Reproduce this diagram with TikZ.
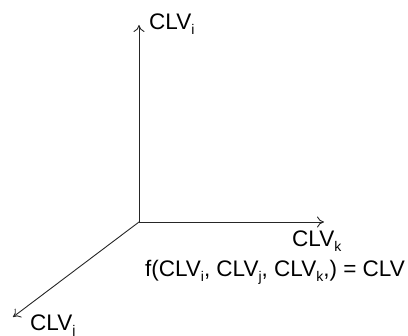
\documentclass[tikz,border=0pt]{standalone}
\usepackage{fontspec}
\setmainfont{Liberation Sans}
\usetikzlibrary{arrows.meta}
\newcommand\sbs[1]{\raisebox{-5pt}{\fontsize{14}{14}\selectfont #1}}
\begin{document}
\begin{tikzpicture}[x=1pt,y=-1pt,
  axis/.style={draw=black!85,line width=0.9pt,-{To[length=7pt,width=11pt]}},
  lab/.style={inner sep=0pt,font=\fontsize{22.5}{26}\selectfont}]
\useasboundingbox (0,0) rectangle (408,336);
\coordinate (o) at (139,222);
\coordinate (yi) at (139,25);
\coordinate (xk) at (324,222);
\coordinate (zj) at (13,317);
\draw[axis] (o) -- (yi);
\draw[axis] (o) -- (xk);
\draw[axis] (o) -- (zj);
\node[lab,anchor=base west] (li) at (149,30) {CLV\sbs{i}};
\node[lab,anchor=base west] (lk) at (292,247) {CLV\sbs{k}};
\node[lab,anchor=base west] (lj) at (30,331) {CLV\sbs{j}};
\node[lab,anchor=base east] (f) at (405,277) {f(CLV\sbs{i}, CLV\sbs{j}, CLV\sbs{k},) = CLV};
\end{tikzpicture}
\end{document}
